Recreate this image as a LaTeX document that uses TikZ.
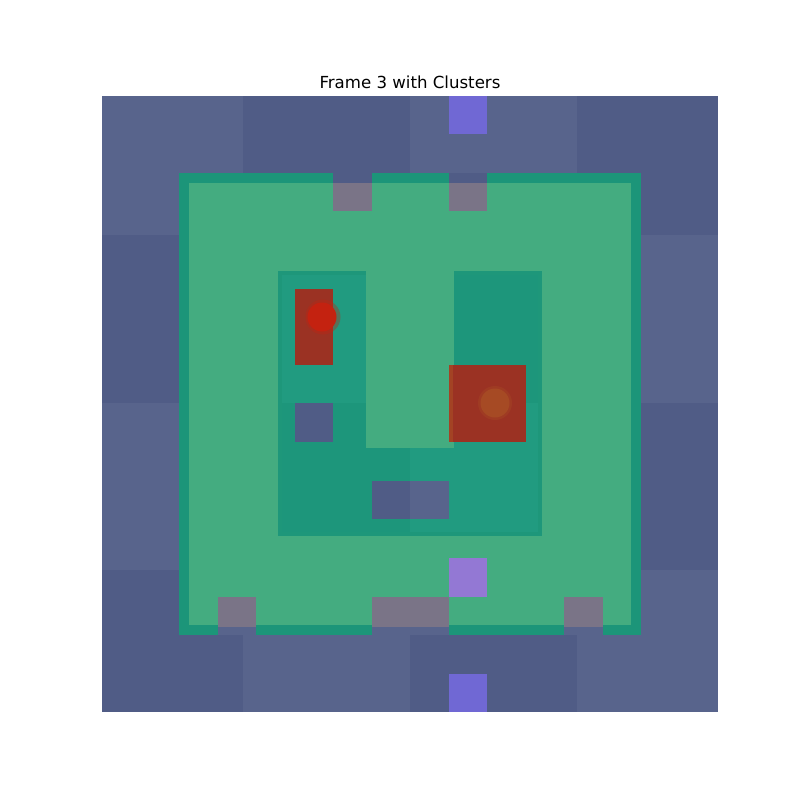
\documentclass[tikz,border=0pt]{standalone}
\usepackage{fontspec}
\setmainfont{DejaVu Sans}
\definecolor{bgL}{RGB}{88,100,140}
\definecolor{bgD}{RGB}{80,92,134}
\definecolor{tealB}{RGB}{28,149,121}
\definecolor{grn}{RGB}{68,172,128}
\definecolor{inL}{RGB}{33,155,128}
\definecolor{inD}{RGB}{29,150,123}
\definecolor{rim}{RGB}{30,151,122}
\definecolor{notch}{RGB}{122,116,135}
\definecolor{purp}{RGB}{112,104,212}
\definecolor{lpurp}{RGB}{147,120,212}
\definecolor{redR}{RGB}{155,50,35}
\definecolor{redC}{RGB}{196,34,16}
\definecolor{orgC}{RGB}{166,74,36}
\begin{document}
\begin{tikzpicture}[x=0.0254cm,y=-0.0254cm]
\useasboundingbox (0,0) rectangle (800,800);
\fill[white] (0,0) rectangle (800,800);
% background checkerboard of blocks
\foreach \xa/\xb [count=\i] in {102/243,243/410,410/577,577/718}{
  \foreach \ya/\yb [count=\j] in {96/235,235/403,403/570,570/712}{
    \pgfmathparse{mod(\i+\j,2)==0 ? "bgL" : "bgD"}
    \edef\cc{\pgfmathresult}
    \fill[\cc] (\xa,\ya) rectangle (\xb,\yb);
  }
}
% purple cells
\fill[purp] (448.5,96) rectangle (487,134);
\fill[purp] (448.5,674) rectangle (487,712);
% green region with teal border
\fill[tealB] (179,173) rectangle (641,635);
\fill[grn] (189,183) rectangle (631,625);
% notches top
\foreach \xa/\xb in {333/371.5,448.5/487}{
  \fill[bgD] (\xa,173) rectangle (\xb,183);
  \fill[notch] (\xa,183) rectangle (\xb,211);
}
% notches bottom
\foreach \xa/\xb in {217.5/256,371.5/448.5,564/602.5}{
  \fill[notch] (\xa,597) rectangle (\xb,627);
  \fill[bgL] (\xa,627) rectangle (\xb,635);
}
\fill[lpurp] (448.5,558) rectangle (487,596.5);
% inner teal U shape
\fill[rim] (278,271) rectangle (542,536);
\fill[inL] (282,275) rectangle (410,403);
\fill[inD] (282,403) rectangle (410,532);
\fill[inL] (410,403) rectangle (538,532);
\fill[inD] (410,275) rectangle (538,403);
\fill[grn] (366,271) rectangle (454,448);
% red rectangles
\fill[redR] (294.5,288.5) rectangle (333,365);
\fill[redR] (448.5,365) rectangle (525.5,442);
\fill[orgC!70!redR] (448.5,365) rectangle (453,442);
% blue-gray squares
\fill[bgD] (294.5,403) rectangle (333,442);
\fill[bgD] (371.5,481) rectangle (410,519);
\fill[bgL] (410,481) rectangle (448.5,519);
% cluster circles
\fill[redC,opacity=0.35] (323,317) circle (17.5);
\fill[redC] (322,317) circle (14.5);
\fill[orgC,opacity=0.4] (495,403) circle (17);
\fill[orgC] (495,403) circle (14.5);
% title
\node[font=\fontsize{12}{14}\selectfont] (title) at (410,82) {Frame 3 with Clusters};
\end{tikzpicture}
\end{document}
